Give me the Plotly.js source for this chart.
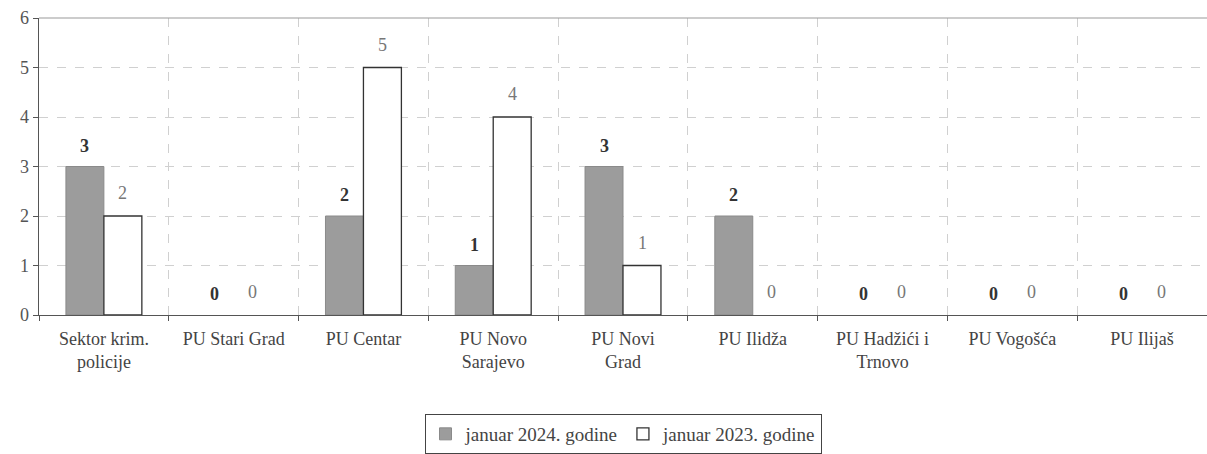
<!DOCTYPE html>
<html>
<head>
<meta charset="utf-8">
<script src="https://cdn.plot.ly/plotly-3.0.1.min.js"></script>
<style>html,body{margin:0;padding:0;background:#fff;}#chart{width:1207px;height:454px;}</style>
</head>
<body>
<div id="chart"></div>
<script>
var categories = ["Sektor krim.<br>policije", "PU Stari Grad", "PU Centar", "PU Novo<br>Sarajevo", "PU Novi<br>Grad", "PU Ilidža", "PU Hadžići i<br>Trnovo", "PU Vogošća", "PU Ilijaš"];
var values2024 = [3, 0, 2, 1, 3, 2, 0, 0, 0];
var values2023 = [2, 0, 5, 4, 1, 0, 0, 0, 0];
var name2024 = "januar 2024. godine";
var name2023 = "januar 2023. godine";

var font = "Liberation Serif";

var traces = [
  {type: "bar", x: categories, y: values2024, name: name2024,
   marker: {color: "#9c9c9c", line: {color: "#8a8a8a", width: values2024.map(function (v) { return v > 0 ? 1 : 0; })}}, hoverinfo: "none"},
  {type: "bar", x: categories, y: values2023, name: name2023,
   marker: {color: "#ffffff", line: {color: "#333333", width: values2023.map(function (v) { return v > 0 ? 1.3 : 0; })}}, hoverinfo: "none"}
];

var annotations = [];
categories.forEach(function (c, i) {
  annotations.push({x: c, y: values2024[i], xref: "x", yref: "y", text: "<b>" + values2024[i] + "</b>",
    showarrow: false, yanchor: "bottom", xshift: -19, yshift: 9,
    font: {family: font, size: 18, color: "#333333"}});
  annotations.push({x: c, y: values2023[i], xref: "x", yref: "y", text: String(values2023[i]),
    showarrow: false, yanchor: "bottom", xshift: 19, yshift: 11,
    font: {family: font, size: 18, color: "#777777"}});
});

var layout = {
  width: 1207, height: 454,
  margin: {l: 39, r: 0, t: 18, b: 138},
  paper_bgcolor: "#ffffff", plot_bgcolor: "#ffffff",
  barmode: "group", bargap: 0.415, bargroupgap: 0,
  font: {family: font, size: 18, color: "#444444"},
  xaxis: {
    type: "category", tickson: "boundaries", ticks: "outside", ticklen: 5, tickcolor: "#555",
    showgrid: true, gridcolor: "#d0d0d0", griddash: "dash", gridwidth: 1,
    showline: true, linecolor: "#555555", linewidth: 1.3, ticklabelstandoff: 7,
    tickfont: {family: font, size: 18, color: "#444444"}, automargin: false
  },
  yaxis: {
    range: [0, 6], dtick: 1, ticks: "outside", ticklen: 5, tickcolor: "#555",
    showgrid: true, gridcolor: "#d0d0d0", griddash: "dash", gridwidth: 1,
    showline: true, linecolor: "#555555", linewidth: 1.3, zeroline: false,
    tickfont: {family: font, size: 18, color: "#555555"}, automargin: false
  },
  shapes: [{type: "line", xref: "paper", yref: "paper", x0: 0, x1: 1, y0: 1, y1: 1,
    line: {color: "#999999", width: 1}}],
  legend: {orientation: "h", x: 0.5, xanchor: "center", y: -0.335, yanchor: "top",
    bordercolor: "#444444", borderwidth: 1, bgcolor: "#ffffff",
    font: {family: font, size: 19, color: "#444444"}, itemwidth: 30, tracegroupgap: 0},
  annotations: annotations,
  showlegend: true
};

Plotly.newPlot("chart", traces, layout, {displayModeBar: false, staticPlot: true});
</script>
</body>
</html>
